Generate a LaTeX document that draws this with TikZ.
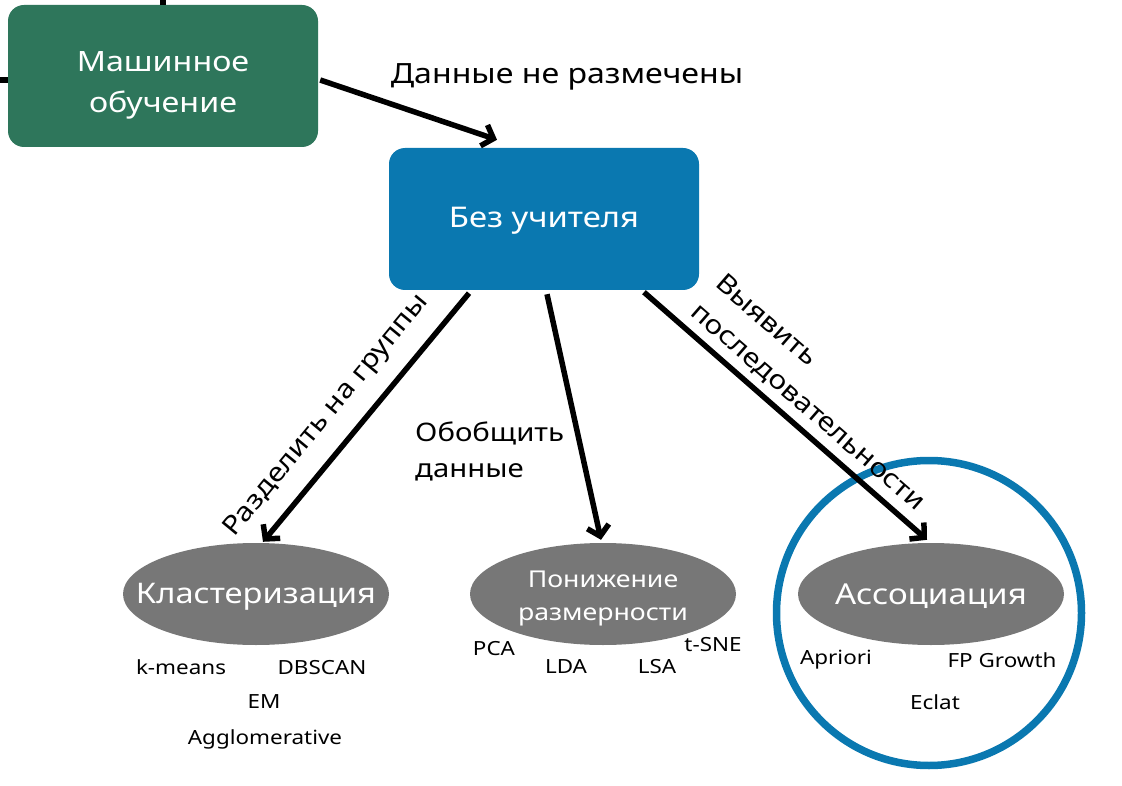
\documentclass[tikz,border=0pt]{standalone}
\usepackage{fontspec}
\setmainfont{Noto Sans}[FakeStretch=1.15]
\usetikzlibrary{arrows.meta,shapes.geometric,calc}
\definecolor{mlgreen}{HTML}{2E765B}
\definecolor{ulblue}{HTML}{0A78B0}
\definecolor{elgray}{HTML}{777777}
\begin{document}
\begin{tikzpicture}[x=1pt,y=-1pt,
  box/.style={rounded corners=16pt, minimum width=310pt, minimum height=142pt, inner sep=0pt},
  boxtext/.style={text=white, align=center, inner sep=0pt},
  ell/.style={ellipse, fill=elgray, minimum width=266pt, minimum height=102pt, inner sep=0pt},
  conn/.style={line width=5.5pt, -{Straight Barb[length=10pt,width=22pt,line width=5.5pt]}},
  stub/.style={line width=5.5pt},
  lbl/.style={font=\fontsize{26}{37}\selectfont, inner sep=0pt},
  item/.style={font=\fontsize{19.5}{22}\selectfont, inner sep=0pt}]
\useasboundingbox (0,0) rectangle (1122,786);
\fill[white] (0,0) rectangle (1122,786);
% main boxes
\node[box, fill=mlgreen] (ml) at (163,76) {};
\node[boxtext, font=\fontsize{28}{41}\selectfont] (mlt) at ($(ml.center)+(0,9)$) {Машинное\\обучение};
\node[box, fill=ulblue] (ul) at (544,219) {};
\node[boxtext, font=\fontsize{28.5}{32}\selectfont] (ult) at ($(ul.center)+(0,2)$) {Без учителя};
% ellipses
\node[ell] (cl) at (256,594) {};
\node[boxtext, font=\fontsize{28.4}{32}\selectfont] (clt) at ($(cl.center)+(0,3)$) {Кластеризация};
\node[ell] (dr) at (603,594) {};
\node[boxtext, font=\fontsize{23.2}{33}\selectfont] (drt) at ($(dr.center)+(0,4)$) {Понижение\\размерности};
\node[ell] (as) at (931,594) {};
\node[boxtext, font=\fontsize{28.8}{32}\selectfont] (ast) at ($(as.center)+(0,2)$) {Ассоциация};
\node[circle, draw=ulblue, line width=7.5pt, minimum size=305pt, inner sep=0pt] (ring) at (929,613) {};
% stubs of connectors coming from outside the frame
\draw[stub] (ml.north) -- ++(0,-10);
\draw[stub] ($(ml.west)+(0,4)$) -- ++(-10,0);
% connectors
\draw[conn] ($(ml.east)+(2,4)$) -- ($(ul.north)+(-47,-8)$);
\draw[conn] ($(ul.south)+(-75,3)$) -- ($(cl.north)+(7,-1)$);
\draw[conn] ($(ul.south)+(3,4)$) -- ($(dr.north)+(-2,-3)$);
\draw[conn] ($(ul.south)+(100,2)$) -- ($(as.north)+(-4,-3)$);
% connector labels
\node[lbl, font=\fontsize{27.9}{37}\selectfont] (l1) at (567,77) {Данные не размечены};
\node[lbl, font=\fontsize{25.5}{36}\selectfont, align=left, anchor=west] (l2) at (415,451) {Обобщить\\данные};
\node[lbl, rotate=50.5] (l3) at (327,416) {Разделить на группы};
\node[lbl, rotate=-41, align=left, font=\fontsize{26}{38}\selectfont] (l4) at (820,393) {Выявить\\последовательности};
% items
\node[item] (i1) at (181,667) {k-means};
\node[item] (i2) at (322,668) {DBSCAN};
\node[item] (i3) at (264,702) {EM};
\node[item] (i4) at (265,739) {Agglomerative};
\node[item] (i5) at (494,649) {PCA};
\node[item] (i6) at (566,667) {LDA};
\node[item] (i7) at (657,667) {LSA};
\node[item] (i8) at (713,645) {t-SNE};
\node[item] (i9) at (836,660) {Apriori};
\node[item] (i10) at (1002,660) {FP Growth};
\node[item] (i11) at (935,702) {Eclat};
\end{tikzpicture}
\end{document}
